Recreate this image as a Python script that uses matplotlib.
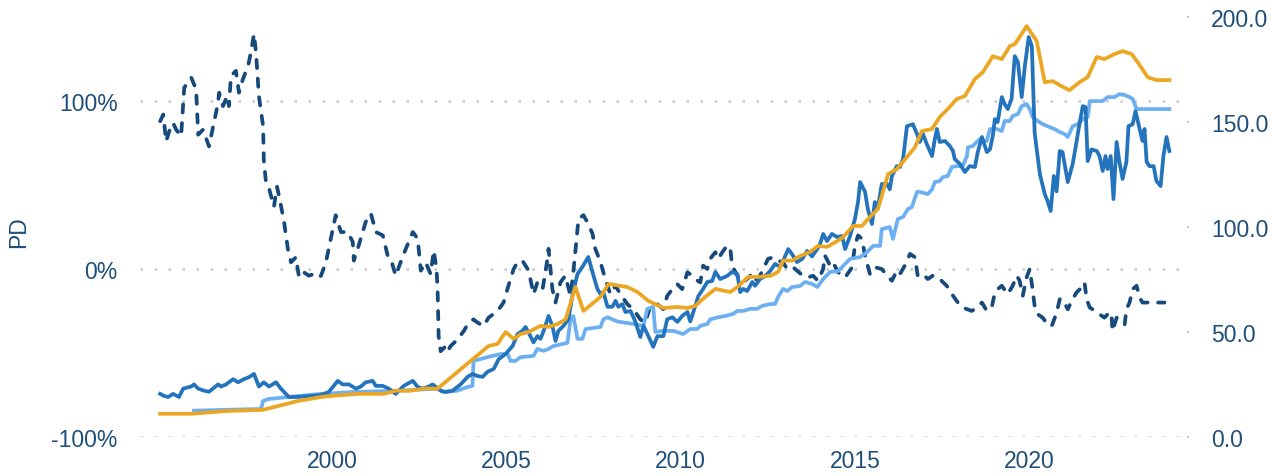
import numpy as np
import matplotlib
matplotlib.use("Agg")
from matplotlib import pyplot as plt
from matplotlib.ticker import FuncFormatter

plt.rcParams['font.family'] = ['Liberation Sans', 'DejaVu Sans']

# premium / discount (left axis, %)
pd_years = [1995.08, 1995.17, 1995.25, 1995.34, 1995.45, 1995.54, 1995.68, 1995.77, 1995.97,
            1996.11, 1996.17, 1996.31, 1996.48, 1996.60, 1996.74, 1996.77, 1996.88, 1997.00,
            1997.05, 1997.11, 1997.25, 1997.34, 1997.45, 1997.60, 1997.68, 1997.77, 1997.83,
            1997.91, 1998.03, 1998.05, 1998.11, 1998.20, 1998.34, 1998.43, 1998.54, 1998.63,
            1998.74, 1998.83, 1998.97, 1999.06, 1999.20, 1999.34, 1999.49, 1999.63, 1999.69,
            1999.83, 1999.97, 2000.11, 2000.26, 2000.46, 2000.60, 2000.63, 2000.77, 2000.97,
            2001.12, 2001.26, 2001.46, 2001.60, 2001.69, 2001.83, 2001.97, 2002.12, 2002.32,
            2002.46, 2002.55, 2002.69, 2002.83, 2002.92, 2003.00, 2003.03, 2003.06, 2003.12,
            2003.26, 2003.32, 2003.40, 2003.60, 2003.78, 2003.92, 2004.06, 2004.18, 2004.35,
            2004.49, 2004.75, 2004.92, 2005.06, 2005.21, 2005.32, 2005.46, 2005.61, 2005.69,
            2005.78, 2005.89, 2006.04, 2006.18, 2006.21, 2006.32, 2006.41, 2006.55, 2006.69,
            2006.84, 2006.92, 2007.04, 2007.07, 2007.21, 2007.32, 2007.47, 2007.55, 2007.70,
            2007.78, 2007.98, 2008.13, 2008.27, 2008.47, 2008.64, 2008.84, 2008.98, 2009.13,
            2009.33, 2009.50, 2009.61, 2009.76, 2009.90, 2010.04, 2010.19, 2010.33, 2010.41,
            2010.56, 2010.64, 2010.76, 2010.84, 2010.99, 2011.07, 2011.19, 2011.33, 2011.42,
            2011.47, 2011.62, 2011.76, 2011.90, 2011.99, 2012.07, 2012.27, 2012.50, 2012.65,
            2012.79, 2012.93, 2013.05, 2013.22, 2013.33, 2013.50, 2013.65, 2013.79, 2013.93,
            2014.08, 2014.13, 2014.28, 2014.36, 2014.51, 2014.71, 2014.91, 2014.99, 2015.08,
            2015.19, 2015.28, 2015.42, 2015.56, 2015.76, 2015.91, 2016.05, 2016.19, 2016.28,
            2016.42, 2016.57, 2016.71, 2016.79, 2016.94, 2017.08, 2017.22, 2017.37, 2017.62,
            2017.77, 2017.94, 2018.08, 2018.34, 2018.48, 2018.63, 2018.77, 2018.92, 2019.00,
            2019.08, 2019.20, 2019.37, 2019.51, 2019.63, 2019.71, 2019.80, 2019.91, 2020.00,
            2020.08, 2020.14, 2020.23, 2020.37, 2020.51, 2020.63, 2020.77, 2020.86, 2020.94,
            2021.09, 2021.20, 2021.34, 2021.49, 2021.57, 2021.63, 2021.72, 2021.80, 2022.00,
            2022.14, 2022.23, 2022.34, 2022.37, 2022.49, 2022.63, 2022.72, 2022.77, 2022.86,
            2022.95, 2023.06, 2023.15, 2023.23, 2023.52, 2023.86]
pd_values = [88, 92, 76, 82, 87, 83, 79, 108, 114,
             107, 80, 83, 73, 85, 99, 105, 97, 103,
             97, 115, 118, 105, 113, 121, 129, 140, 128,
             103, 85, 65, 52, 48, 37, 49, 38, 28,
             12, 4, 7, -5, -2, -4, -3, -5, -4,
             4, 18, 32, 22, 22, 16, 5, 14, 28,
             33, 22, 20, 8, 6, -4, 4, 12, 22,
             18, -1, 4, -3, 11, 0, -12, -40, -49,
             -46, -49, -46, -42, -37, -32, -30, -32, -34,
             -29, -25, -20, -10, 0, 4, 5, 0, -6,
             -15, -8, -12, 6, 12, -12, -20, -8, -4,
             -16, -2, 24, 30, 32, 28, 21, 12, 4,
             -2, -15, -10, -15, -21, -24, -30, -32, -22,
             -21, -24, -16, -12, -9, -12, -2, -4, -6,
             -8, 2, 0, 6, 10, 6, 10, 14, 12,
             2, -4, -8, -6, -4, -8, -4, 6, 7,
             5, 4, 0, 1, -1, -4, -5, -4, -7,
             0, 8, 2, 4, -2, -5, 1, 14, 20,
             18, 8, -3, 1, 0, -4, -7, -1, -3,
             2, 9, 7, -4, -3, -6, -4, -5, -10,
             -15, -20, -23, -25, -23, -20, -25, -22, -14,
             -12, -10, -15, -10, -4, -7, -16, -5, 0,
             -12, -22, -27, -29, -33, -34, -26, -18, -18,
             -24, -19, -14, -11, -8, -18, -23, -24, -27,
             -29, -27, -26, -37, -29, -31, -33, -24, -20,
             -12, -10, -17, -20, -20, -20]

# market price (right axis)
price_years = [1995.08, 1995.19, 1995.31, 1995.45, 1995.62, 1995.74, 1995.97, 1996.05, 1996.17,
               1996.34, 1996.48, 1996.74, 1996.82, 1996.97, 1997.17, 1997.31, 1997.48, 1997.63,
               1997.77, 1997.91, 1998.05, 1998.20, 1998.40, 1998.54, 1998.77, 1999.03, 1999.40,
               1999.69, 1999.91, 2000.17, 2000.31, 2000.49, 2000.69, 2000.83, 2000.97, 2001.17,
               2001.26, 2001.46, 2001.63, 2001.83, 2002.06, 2002.32, 2002.46, 2002.60, 2002.75,
               2002.89, 2002.98, 2003.12, 2003.26, 2003.46, 2003.69, 2003.89, 2004.03, 2004.18,
               2004.32, 2004.46, 2004.64, 2004.78, 2004.98, 2005.18, 2005.32, 2005.46, 2005.55,
               2005.69, 2005.78, 2005.89, 2005.98, 2006.07, 2006.21, 2006.32, 2006.41, 2006.49,
               2006.64, 2006.78, 2006.90, 2007.04, 2007.18, 2007.35, 2007.50, 2007.61, 2007.70,
               2007.78, 2007.90, 2008.04, 2008.13, 2008.21, 2008.33, 2008.41, 2008.56, 2008.70,
               2008.84, 2008.93, 2009.07, 2009.21, 2009.33, 2009.50, 2009.61, 2009.76, 2009.90,
               2010.04, 2010.19, 2010.27, 2010.36, 2010.50, 2010.64, 2010.76, 2010.90, 2010.99,
               2011.13, 2011.33, 2011.47, 2011.62, 2011.70, 2011.79, 2011.90, 2012.05, 2012.13,
               2012.27, 2012.42, 2012.56, 2012.70, 2012.85, 2012.93, 2013.08, 2013.19, 2013.33,
               2013.48, 2013.62, 2013.76, 2013.91, 2013.99, 2014.08, 2014.19, 2014.33, 2014.48,
               2014.62, 2014.71, 2014.85, 2014.99, 2015.08, 2015.14, 2015.28, 2015.36, 2015.48,
               2015.56, 2015.65, 2015.76, 2015.91, 2015.99, 2016.05, 2016.19, 2016.28, 2016.37,
               2016.48, 2016.65, 2016.77, 2016.85, 2016.94, 2017.05, 2017.20, 2017.28, 2017.34,
               2017.42, 2017.57, 2017.71, 2017.80, 2017.85, 2018.00, 2018.14, 2018.28, 2018.43,
               2018.51, 2018.63, 2018.77, 2018.86, 2018.94, 2019.00, 2019.08, 2019.20, 2019.28,
               2019.37, 2019.48, 2019.57, 2019.66, 2019.77, 2019.86, 2019.97, 2020.06, 2020.14,
               2020.29, 2020.43, 2020.51, 2020.60, 2020.69, 2020.77, 2020.86, 2020.94, 2021.09,
               2021.23, 2021.34, 2021.40, 2021.52, 2021.60, 2021.66, 2021.77, 2021.92, 2022.00,
               2022.09, 2022.17, 2022.23, 2022.32, 2022.40, 2022.49, 2022.57, 2022.66, 2022.77,
               2022.83, 2022.95, 2023.03, 2023.15, 2023.23, 2023.29, 2023.35, 2023.43, 2023.55,
               2023.63, 2023.75, 2023.83, 2023.92, 2024.00]
price_values = [20.5, 19.5, 19, 20.5, 19, 23, 24, 25, 23,
                22, 21.5, 25, 24, 25, 27.5, 26, 27.5, 28.5,
                30, 24, 26, 24, 26, 23, 19, 19, 19.5,
                20, 21.4, 26.7, 25, 25, 23, 24, 26, 26.7,
                24.3, 24.3, 23, 20.5, 24.3, 26.7, 23.8, 23, 23.8,
                25, 23.8, 22, 21.4, 22, 25, 28.6, 30, 29,
                28.6, 31, 32.4, 37, 39.5, 43.3, 49, 50.5, 52.4,
                48, 45, 48, 46.7, 50.5, 57.6, 52.9, 45.7, 50.5,
                52.9, 56, 68, 77.6, 81, 85.7, 76.7, 70.5, 68,
                69, 62, 62, 64.8, 62, 63.3, 59.5, 60, 54.8,
                47.6, 52.9, 48, 42.9, 48, 48, 56, 57, 54.8,
                57.6, 59.5, 55, 59.5, 67, 70.5, 73.8, 74.3, 78.6,
                75.2, 76.7, 78.6, 77.6, 69, 70.5, 69.5, 73.8, 72,
                75.2, 76.7, 79, 82.4, 81, 83.8, 89.5, 87, 83.3,
                84.8, 88.6, 86, 89.5, 91.9, 96.7, 93.3, 96.7, 95.2,
                95.7, 89.5, 95.7, 103.8, 112, 121.4, 116.7, 108.6, 101.4,
                111.9, 109.5, 120.5, 120.5, 118, 124.3, 129, 128.6, 132.4,
                148, 149, 144.3, 140.5, 144.3, 139.5, 133.8, 141.9, 146.7,
                140.5, 141, 138.6, 136.2, 132.4, 130, 126.2, 129, 128.6,
                135.7, 142.9, 135.7, 137, 143.3, 151.4, 150, 161.9, 158.6,
                156.2, 161, 181.4, 178.6, 161.9, 176.7, 190.5, 186.2, 145,
                125.2, 115.7, 112.4, 107.6, 124.3, 117, 136.2, 135.7, 121.4,
                130, 140.5, 146.7, 157.6, 157.1, 131.4, 137, 136.2, 133.8,
                126.7, 133.8, 127.6, 133.8, 113.3, 140.5, 131, 122.9, 131,
                148, 149, 155.2, 146.7, 141, 146.7, 131, 129, 129,
                121.9, 119.5, 133.8, 142.9, 136.2]

# net asset value (right axis)
nav_years = [1996.05, 1997.97, 1998.03, 1998.17, 1999.03, 1999.69, 2000.63, 2001.89, 2003.03,
             2003.20, 2003.60, 2003.89, 2004.03, 2004.06, 2004.46, 2004.84, 2005.04, 2005.12,
             2005.26, 2005.41, 2005.78, 2005.89, 2006.07, 2006.21, 2006.35, 2006.61, 2006.75,
             2006.84, 2006.92, 2007.04, 2007.18, 2007.27, 2007.70, 2007.78, 2007.90, 2008.18,
             2008.64, 2008.93, 2009.04, 2009.21, 2009.27, 2009.47, 2009.79, 2010.07, 2010.27,
             2010.47, 2010.56, 2010.76, 2010.84, 2011.07, 2011.27, 2011.50, 2011.62, 2011.79,
             2011.99, 2012.19, 2012.33, 2012.56, 2012.70, 2012.79, 2012.93, 2013.05, 2013.19,
             2013.42, 2013.56, 2013.76, 2013.91, 2014.08, 2014.28, 2014.51, 2014.65, 2014.85,
             2015.14, 2015.34, 2015.51, 2015.71, 2015.76, 2015.99, 2016.08, 2016.22, 2016.37,
             2016.51, 2016.62, 2016.77, 2016.85, 2017.08, 2017.20, 2017.28, 2017.42, 2017.51,
             2017.65, 2017.77, 2017.91, 2018.08, 2018.20, 2018.23, 2018.37, 2018.48, 2018.57,
             2018.66, 2018.77, 2018.86, 2019.06, 2019.20, 2019.28, 2019.43, 2019.51, 2019.66,
             2019.77, 2019.91, 2020.00, 2020.08, 2020.23, 2020.37, 2020.57, 2020.71, 2020.86,
             2021.00, 2021.09, 2021.23, 2021.37, 2021.52, 2021.66, 2021.72, 2022.09, 2022.23,
             2022.43, 2022.57, 2022.72, 2022.86, 2022.95, 2023.06, 2024.00]
nav_values = [12.5, 13.3, 17.1, 18, 19.5, 20.5, 21.4, 22, 23,
              21.4, 22, 23.8, 24.3, 36.2, 38, 39.5, 39.5, 36.2,
              36.2, 38, 38.6, 41.9, 41, 41.9, 43.3, 44.3, 44.8,
              56, 57.6, 46.7, 46.7, 51.4, 52.4, 56, 57, 55,
              53.8, 52.9, 61, 61.9, 50, 50.5, 50.5, 49, 51.4,
              51.4, 52.9, 53.8, 56, 57, 57.6, 58.6, 60, 60,
              61, 61, 62.4, 63.3, 63.3, 66.7, 70.5, 69.5, 71.4,
              71.9, 73.8, 72.9, 71.4, 75.2, 78.6, 79, 81.4, 84.8,
              85.7, 88, 91, 91, 99, 100, 94.3, 103.8, 104.8,
              108.6, 109.5, 116.7, 116.7, 115.7, 118, 121.4, 121.9, 123.8,
              124.3, 128.6, 129, 129, 133.8, 138, 138.6, 140.5, 141.9,
              141, 141, 146.7, 146.7, 145.7, 150.5, 150.5, 152.9, 153.8,
              157.6, 158.6, 156.2, 152.4, 150.5, 149, 147.6, 146.7, 145.2,
              144.3, 142.9, 148, 149, 151.4, 152.4, 160, 160, 161.9,
              161.9, 163.3, 162.9, 161.9, 161, 156.2, 156.2]

# benchmark (right axis)
bench_years = [1995.08, 1995.97, 1996.97, 1998.03, 1999.03, 1999.69, 1999.97, 2000.74, 2001.49,
               2001.83, 2002.26, 2002.63, 2003.03, 2004.49, 2004.75, 2004.98, 2005.21, 2005.41,
               2005.64, 2005.98, 2006.21, 2006.47, 2006.70, 2006.98, 2007.21, 2007.70, 2007.93,
               2008.47, 2008.76, 2009.07, 2009.50, 2009.90, 2010.19, 2010.41, 2010.70, 2010.99,
               2011.42, 2011.62, 2011.93, 2012.22, 2012.56, 2012.79, 2012.93, 2013.19, 2013.42,
               2013.70, 2013.93, 2014.19, 2014.48, 2014.65, 2014.94, 2015.19, 2015.42, 2015.65,
               2015.94, 2016.19, 2016.48, 2016.71, 2016.91, 2017.20, 2017.42, 2017.65, 2017.91,
               2018.14, 2018.43, 2018.66, 2018.94, 2019.20, 2019.43, 2019.57, 2019.71, 2019.91,
               2020.20, 2020.43, 2020.66, 2020.91, 2021.14, 2021.43, 2021.66, 2021.92, 2022.14,
               2022.43, 2022.66, 2022.92, 2023.09, 2023.38, 2023.63, 2024.00]
bench_values = [11, 11, 12.3, 12.9, 17.1, 19, 19.5, 20.5, 20.5,
                22, 22, 23, 23, 43.3, 44.3, 50, 46.7, 49,
                50, 52.9, 52.4, 53.8, 56, 71.4, 60, 66.7, 72.9,
                71.4, 69, 64.8, 61.4, 61.9, 61.4, 62.4, 66.7, 70.5,
                69, 71.4, 76.2, 76.2, 76.7, 78.6, 84, 84, 86.2,
                88.1, 91, 90.5, 93.3, 95.2, 100.5, 100.5, 104.8, 108.6,
                125.2, 127.6, 133.3, 138, 145.7, 146.7, 152.4, 156.2, 161,
                162.4, 170.5, 173.8, 181.4, 180, 186.2, 187.1, 190.5, 195.7,
                188.6, 169, 169.5, 167.1, 165.2, 169, 171.4, 181, 180,
                182.4, 183.8, 182.4, 178.6, 171.4, 170, 170]

left_ticks = [-100, 0, 100]
right_ticks = [0, 50, 100, 150, 200]
year_ticks = [2000, 2005, 2010, 2015, 2020]

TEXT = '#1f4e79'
DARK = '#174a7c'
MID = '#2474bd'
LIGHT = '#6db0f2'
ORANGE = '#eba724'
GRID = '#c8c8c8'
LW = 2.7

fig = plt.figure(figsize=(12.72, 4.77), dpi=100)
ax = fig.add_axes([0.110, 0.082, 0.823, 0.880])
ax2 = ax.twinx()

# dashed PD on the left scale, the three level series on the right scale
ax.plot(pd_years, pd_values, color=DARK, lw=LW,
        linestyle=(0, (2.2, 2.8)), dash_capstyle='round', solid_joinstyle='round')
ax2.plot(nav_years, nav_values, color=LIGHT, lw=LW, solid_joinstyle='round')
ax2.plot(price_years, price_values, color=MID, lw=LW, solid_joinstyle='round')
ax2.plot(bench_years, bench_values, color=ORANGE, lw=LW, solid_joinstyle='round')

ax.set_xlim(1994.5, 2024.5)
ax.set_ylim(-100, 150)
ax2.set_ylim(0, 200)

ax.set_yticks(left_ticks)
ax.yaxis.set_major_formatter(FuncFormatter(lambda v, p: f"{v:.0f}%"))
ax2.set_yticks(right_ticks)
ax2.yaxis.set_major_formatter(FuncFormatter(lambda v, p: f"{v:.1f}"))
ax.set_xticks(year_ticks)

ax.yaxis.grid(True, color=GRID, linestyle=(0, (1, 4.6)), linewidth=1.8)
ax.set_axisbelow(True)

for a in (ax, ax2):
    for s in a.spines.values():
        s.set_visible(False)

ax.tick_params(axis='y', length=0, pad=16, labelsize=16.5, labelcolor=TEXT)
ax.tick_params(axis='x', length=0, pad=9, labelsize=16.5, labelcolor=TEXT)
ax2.tick_params(axis='y', length=1.5, width=1.5, color=GRID, pad=16,
                labelsize=16.5, labelcolor=TEXT)

ax.set_ylabel('PD', fontsize=16.5, color=TEXT)
ax.yaxis.set_label_coords(-0.105, 0.49)

fig.savefig('out.png', dpi=100)
